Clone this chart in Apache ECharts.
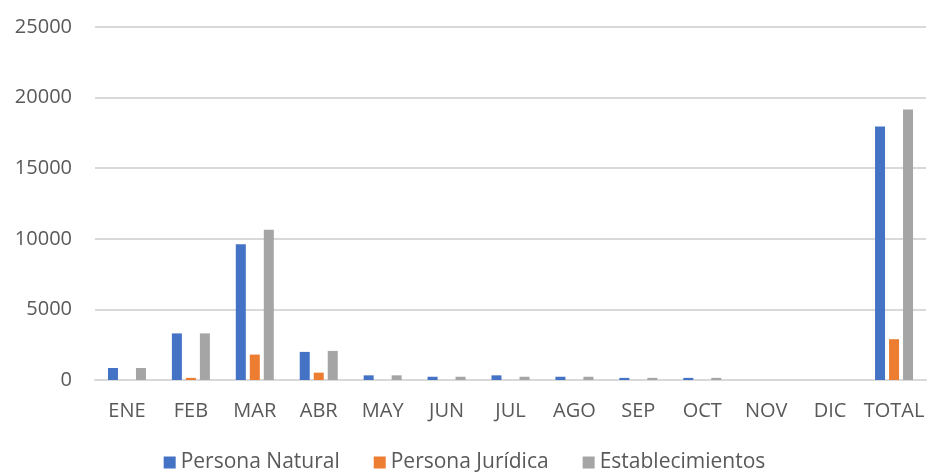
<!DOCTYPE html>
<html lang="es">
<head>
    <meta charset="UTF-8">
    <title>Registros por mes</title>
    <script src="https://cdn.jsdelivr.net/npm/echarts@6/dist/echarts.min.js"></script>
    <style>
        html, body { margin: 0; padding: 0; background: #fff; }
        #chart { width: 929px; height: 476px; }
    </style>
</head>
<body>
<div id="chart"></div>
<script type="text/javascript">
    const categories = ['ENE', 'FEB', 'MAR', 'ABR', 'MAY', 'JUN', 'JUL', 'AGO', 'SEP', 'OCT', 'NOV', 'DIC', 'TOTAL'];
    const personaNatural = [850, 3300, 9620, 1990, 330, 230, 330, 230, 150, 150, 0, 0, 17950];
    const personaJuridica = [0, 150, 1800, 520, 0, 0, 0, 0, 0, 0, 0, 0, 2890];
    const establecimientos = [850, 3300, 10640, 2060, 330, 230, 230, 230, 150, 150, 0, 0, 19150];
    const yTicks = [0, 5000, 10000, 15000, 20000, 25000];

    const font = '"Open Sans", sans-serif';
    const chart = echarts.init(document.getElementById('chart'));

    function barSeries(name, data, color) {
        return {
            name: name,
            type: 'bar',
            data: data,
            barWidth: 10,
            barGap: '40%',
            itemStyle: {color: color}
        };
    }

    chart.setOption({
        animation: false,
        grid: {left: 95, right: 3, top: 27, bottom: 96},
        legend: {
            bottom: -2,
            left: 'center',
            itemWidth: 12,
            itemHeight: 12,
            itemGap: 34,
            icon: 'rect',
            textStyle: {fontFamily: font, fontSize: 21, color: '#595959'}
        },
        xAxis: {
            type: 'category',
            data: categories,
            axisTick: {show: false},
            axisLine: {lineStyle: {color: '#d9d9d9', width: 2}},
            axisLabel: {fontFamily: font, fontSize: 20, color: '#595959', margin: 21, interval: 0}
        },
        yAxis: {
            type: 'value',
            min: yTicks[0],
            max: yTicks[yTicks.length - 1],
            interval: 5000,
            axisLine: {show: false},
            axisTick: {show: false},
            splitLine: {lineStyle: {color: '#d9d9d9', width: 2}},
            axisLabel: {fontFamily: font, fontSize: 20, color: '#595959', margin: 23,
                formatter: function (v) { return String(v); }}
        },
        series: [
            barSeries('Persona Natural', personaNatural, '#4472C4'),
            barSeries('Persona Jurídica', personaJuridica, '#ED7D31'),
            barSeries('Establecimientos', establecimientos, '#A5A5A5')
        ]
    });
</script>
</body>
</html>
